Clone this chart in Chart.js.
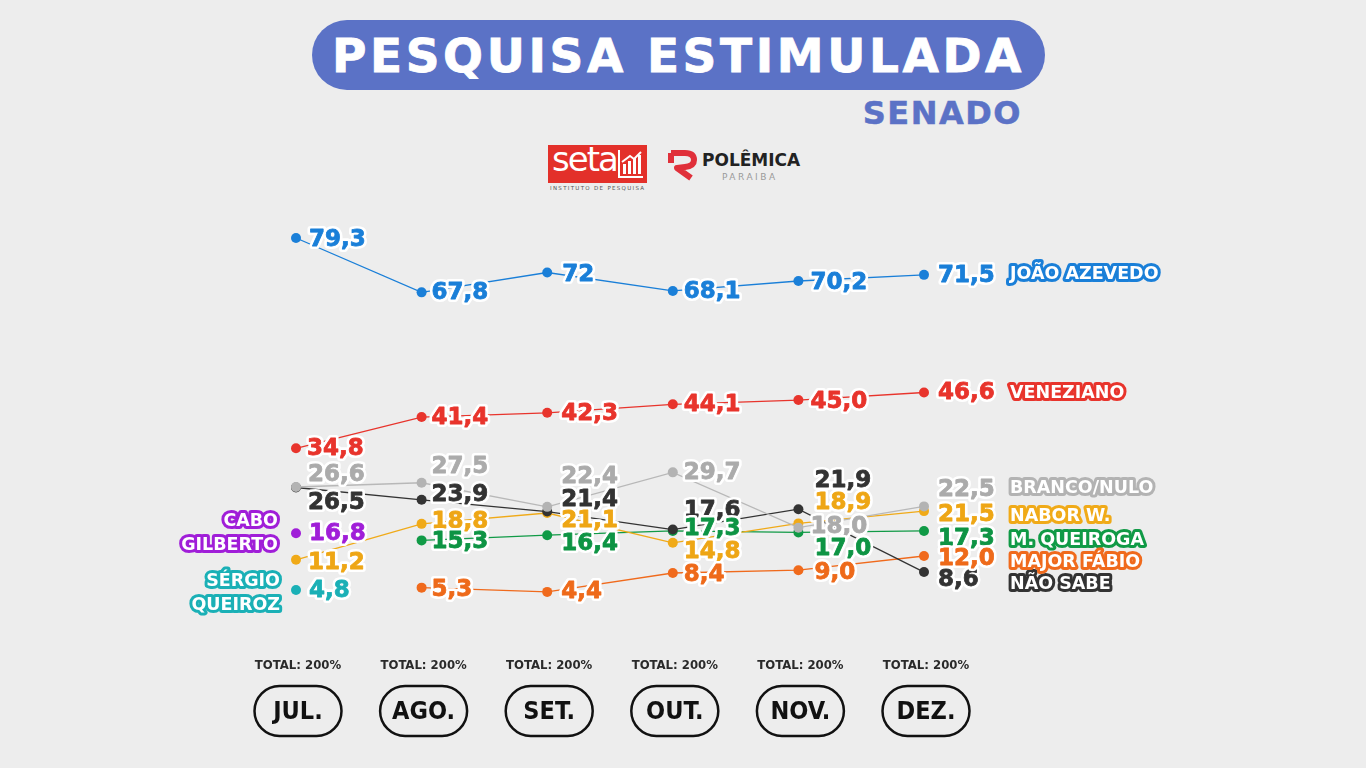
<!DOCTYPE html>
<html>
<head>
<meta charset="utf-8">
<script src="https://cdn.jsdelivr.net/npm/chart.js@4.4.1/dist/chart.umd.min.js"></script>
<style>
  html,body{margin:0;padding:0;}
  body{width:1366px;height:768px;background:#ededed;position:relative;overflow:hidden;font-family:"DejaVu Sans",sans-serif;}
  #wrap{position:absolute;left:0;top:0;width:1366px;height:768px;}
  .pill{position:absolute;left:312px;top:20px;width:733px;height:70px;border-radius:35px;background:#5b72c6;}
  .title{position:absolute;left:312px;top:20px;width:733px;height:70px;line-height:72px;text-align:center;color:#fff;font-weight:bold;font-size:47px;letter-spacing:3.6px;-webkit-text-stroke:0.8px #fff;}
  .senado{position:absolute;right:344px;top:94px;color:#5b72c6;font-weight:bold;font-size:32px;letter-spacing:1.5px;-webkit-text-stroke:0.5px #5b72c6;}
  .seta{position:absolute;left:548px;top:145px;width:99px;height:38px;background:#e3302a;}
  .seta span{position:absolute;left:4px;top:-6px;color:#fff;font-family:"DejaVu Sans";font-size:34px;letter-spacing:-2px;}
  .seta .ic{position:absolute;left:70px;top:5px;width:25px;height:28px;border-left:2px solid #fff;border-bottom:2px solid #fff;box-sizing:border-box;}
  .setasub{position:absolute;left:550px;top:185px;font-size:5.5px;color:#555;letter-spacing:1.3px;}
  .pol{position:absolute;left:702px;top:150px;font-weight:bold;font-size:17px;color:#222;letter-spacing:0px;}
  .polsub{position:absolute;left:722px;top:172px;font-size:9px;color:#9a9a9a;letter-spacing:2.5px;}
</style>
</head>
<body>
<div class="pill"></div>
<div class="title">PESQUISA ESTIMULADA</div>
<div class="senado">SENADO</div>
<div class="seta"><span>seta</span><div class="ic"><svg width="23" height="26" viewBox="0 0 23 26"><rect x="3" y="14" width="3" height="10" fill="#fff"/><rect x="8" y="11" width="3" height="13" fill="#fff"/><rect x="13" y="8" width="3" height="16" fill="#fff"/><rect x="18" y="5" width="3" height="19" fill="#fff"/><path d="M2 12 L10 6 L14 9 L21 2" stroke="#fff" stroke-width="2" fill="none"/></svg></div></div>
<div class="setasub">INSTITUTO DE PESQUISA</div>
<svg style="position:absolute;left:667px;top:147px" width="32" height="34" viewBox="0 0 32 34"><path d="M4 6 L18 6 Q27 6 27 13 Q27 19 18 20 L10 21 L24 31" stroke="#e0303a" stroke-width="6" fill="none" stroke-linejoin="round"/><path d="M4 6 L4 16" stroke="#e0303a" stroke-width="6"/></svg>
<div class="pol">POLÊMICA</div>
<div class="polsub">PARAIBA</div>
<div id="wrap"><canvas id="c" width="1366" height="768"></canvas></div>
<script>
// ---- data ----
const months = ["JUL.", "AGO.", "SET.", "OUT.", "NOV.", "DEZ."];
const totals = ["TOTAL: 200%", "TOTAL: 200%", "TOTAL: 200%", "TOTAL: 200%", "TOTAL: 200%", "TOTAL: 200%"];
const joaoAzevedo   = [79.3, 67.8, 72.0, 68.1, 70.2, 71.5];
const veneziano     = [34.8, 41.4, 42.3, 44.1, 45.0, 46.6];
const brancoNulo    = [26.6, 27.5, 22.4, 29.7, 18.0, 22.5];
const naoSabe       = [26.5, 23.9, 21.4, 17.6, 21.9, 8.6];
const naborW        = [11.2, 18.8, 21.1, 14.8, 18.9, 21.5];
const mQueiroga     = [null, 15.3, 16.4, 17.3, 17.0, 17.3];
const majorFabio    = [null, 5.3, 4.4, 8.4, 9.0, 12.0];
const caboGilberto  = [16.8, null, null, null, null, null];
const sergioQueiroz = [4.8, null, null, null, null, null];

// ---- styles ----
const series = [
  {name:"JOÃO AZEVEDO", data:joaoAzevedo, color:"#1a7fd8", line:"#1a7fd8", text:"#1a7fd8", fmt:"min",
   off:[[13,1],[10,0],[15,2],[11,0],[12,1],[14,0]], names:[["JOÃO AZEVEDO",1010,274,"left"]]},
  {name:"VENEZIANO", data:veneziano, color:"#e8342c", line:"#e8342c", text:"#e8342c",
   off:[[11,0],[10,0],[14,0],[11,0],[12,1],[14,0]], names:[["VENEZIANO",1010,393,"left"]]},
  {name:"BRANCO/NULO", data:brancoNulo, color:"#b3b3b3", line:"#b8b8b8", text:"#ababab",
   off:[[12,-13],[10,-17],[14,-31],[11,0],[12,-2],[14,-17]], names:[["BRANCO/NULO",1010,488,"left"]]},
  {name:"NÃO SABE", data:naoSabe, color:"#333333", line:"#333333", text:"#333333",
   off:[[12,15],[10,-6],[14,-13],[11,-20],[16,-29],[14,7]], names:[["NÃO SABE",1010,584,"left"]]},
  {name:"NABOR W.", data:naborW, color:"#f0aa18", line:"#f0aa18", text:"#eea615",
   off:[[12,2],[10,-3],[14,7],[11,8],[16,-21],[14,3]], names:[["NABOR W.",1010,516,"left"]]},
  {name:"M. QUEIROGA", data:mQueiroga, color:"#109a46", line:"#109a46", text:"#0e9444",
   off:[[0,0],[10,1],[14,8],[11,-3],[16,16],[14,7]], names:[["M. QUEIROGA",1010,540,"left"]]},
  {name:"MAJOR FÁBIO", data:majorFabio, color:"#f06a1c", line:"#f06a1c", text:"#ee6a1a",
   off:[[0,0],[10,1],[14,-1],[11,1],[16,2],[14,2]], names:[["MAJOR FÁBIO",1010,562,"left"]]},
  {name:"CABO GILBERTO", data:caboGilberto, color:"#a01ed8", line:"#a01ed8", text:"#a01ed8",
   off:[[13,0]], names:[["CABO",278,521,"right"],["GILBERTO",278,545,"right"]]},
  {name:"SÉRGIO QUEIROZ", data:sergioQueiroz, color:"#1ab0b6", line:"#1ab0b6", text:"#1ab0b6",
   off:[[13,0]], names:[["SÉRGIO",280,581,"right"],["QUEIROZ",280,605,"right"]]}
];

function fmtVal(v, mode){
  if(mode==="min") return String(v).replace(".", ",");
  return v.toFixed(1).replace(".", ",");
}

const labelPlugin = {
  id: "valueLabels",
  afterDatasetsDraw(chart){
    const ctx = chart.ctx;
    ctx.save();
    ctx.lineJoin = "round";
    ctx.textBaseline = "middle";
    // series names
    series.forEach(s=>{
      ctx.font = "bold 17.5px 'DejaVu Sans'";
      s.names.forEach(n=>{
        ctx.textAlign = n[3];
        ctx.lineWidth = 6;
        ctx.strokeStyle = s.color;
        ctx.strokeText(n[0], n[1], n[2]);
        ctx.fillStyle = "#ffffff";
        ctx.fillText(n[0], n[1], n[2]);
      });
    });
    // value labels
    ctx.textAlign = "left";
    ctx.font = "bold 23px 'DejaVu Sans'";
    chart.data.datasets.forEach((ds,i)=>{
      const s = series[i];
      const meta = chart.getDatasetMeta(i);
      meta.data.forEach((pt,j)=>{
        const v = ds.data[j];
        if(v===null || v===undefined) return;
        const o = s.off[j] || [12,0];
        const t = fmtVal(v, s.fmt);
        const x = pt.x + o[0], y = pt.y + o[1] + 1;
        ctx.lineWidth = 6;
        ctx.strokeStyle = "#ffffff";
        ctx.strokeText(t, x, y);
        ctx.fillStyle = s.text;
        ctx.lineWidth = 0.8;
        ctx.strokeStyle = s.text;
        ctx.fillText(t, x, y);
        ctx.strokeText(t, x, y);
      });
    });
    ctx.restore();
  },
  afterDraw(chart){
    const ctx = chart.ctx;
    const xs = chart.scales.x;
    ctx.save();
    ctx.textAlign = "center";
    ctx.textBaseline = "middle";
    months.forEach((m,j)=>{
      const x = xs.getPixelForValue(j) + 2;
      ctx.font = "bold 13px 'DejaVu Sans Condensed'";
      ctx.fillStyle = "#2a2a2a";
      ctx.fillText(totals[j], x, 666);
      const w = 87, h = 50, r = 25, y = 686;
      ctx.beginPath();
      ctx.roundRect(x - w/2, y, w, h, r);
      ctx.lineWidth = 2.5;
      ctx.strokeStyle = "#111";
      ctx.stroke();
      ctx.font = "bold 25px 'DejaVu Sans Condensed'";
      ctx.fillStyle = "#111";
      ctx.fillText(m, x, y + h/2 + 1);
    });
    ctx.restore();
  }
};

new Chart(document.getElementById("c"), {
  type: "line",
  data: {
    labels: months,
    datasets: series.map(s=>({
      label: s.name,
      data: s.data,
      borderColor: s.line,
      backgroundColor: s.color,
      pointBackgroundColor: s.color,
      pointBorderColor: s.color,
      pointRadius: 5,
      pointBorderWidth: 0,
      borderWidth: 1.3,
      tension: 0,
      spanGaps: false,
      clip: false
    }))
  },
  options: {
    responsive: false,
    animation: false,
    events: [],
    layout: {padding: {left: 296, right: 442, top: 234.7, bottom: 155.3}},
    plugins: {legend: {display: false}, tooltip: {enabled: false}, title: {display: false}},
    scales: {
      x: {display: false, offset: false},
      y: {display: false, min: 0, max: 80}
    }
  },
  plugins: [labelPlugin]
});
</script>
</body>
</html>
